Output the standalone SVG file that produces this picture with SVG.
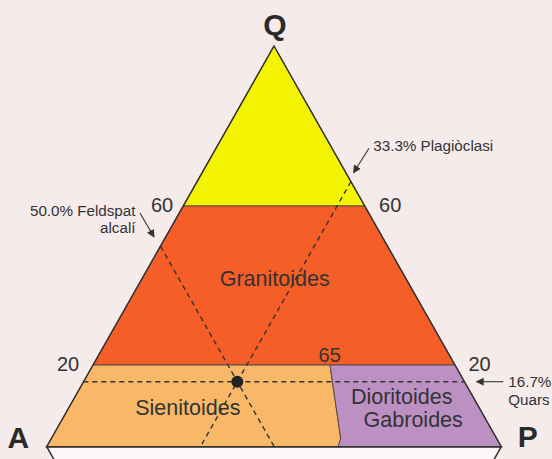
<svg xmlns="http://www.w3.org/2000/svg" width="552" height="459" viewBox="0 0 552 459">
<defs>
<style>
.t{font-family:"Liberation Sans",Arial,sans-serif;fill:#333333}
.big{font-size:21.5px}
.sm{font-size:15.2px}
.num{font-size:20px}
.corner{font-size:30px;font-weight:bold;fill:#2a2a2a}
.reg{stroke:#5a4a40;stroke-width:1}
.dash{stroke:#333;stroke-width:1.4;stroke-dasharray:5 4;fill:none}
.arr{stroke:#333;stroke-width:1.1;fill:none;marker-end:url(#ah)}
</style>
<marker id="ah" viewBox="0 0 10 10" refX="9" refY="5" markerWidth="8" markerHeight="8" markerUnits="userSpaceOnUse" orient="auto">
<path d="M0,0 L10,5 L0,10 z" fill="#333"/>
</marker>
</defs>
<rect width="552" height="459" fill="#f6ebeb"/>
<g id="lower-triangle">
<polygon points="46.7,446.7 501.3,446.7 274,847" fill="#fcf8f8" stroke="#333" stroke-width="1.5"/>
</g>
<g id="region-yellow">
<polygon class="reg" points="274,46 364.7,206 183.3,206" fill="#f4f400"/>
</g>
<g id="region-granitoides">
<polygon class="reg" points="183.3,206 364.7,206 455,365 93,365" fill="#f55e27"/>
<text class="t big" x="274.7" y="285.5" text-anchor="middle">Granitoides</text>
</g>
<g id="region-sienitoides">
<polygon class="reg" points="93,365 330,365 340.7,438.3 338.3,446.7 46.7,446.7" fill="#f8b868"/>
<text class="t big" x="187.8" y="415" text-anchor="middle">Sienitoides</text>
</g>
<g id="region-dioritoides">
<polygon class="reg" points="330,365 455,365 501.3,446.7 338.3,446.7 340.7,438.3" fill="#bd90c4"/>
<text class="t big" x="401.7" y="404" text-anchor="middle">Dioritoides</text>
<text class="t big" x="413.2" y="426.7" text-anchor="middle">Gabroides</text>
</g>
<g id="outline">
<polygon points="274,46 501.3,446.7 46.7,446.7" fill="none" stroke="#333" stroke-width="1.5" stroke-linejoin="miter"/>
</g>
<g id="connectors">
<line class="dash" x1="83.3" y1="381.7" x2="464.3" y2="381.7"/>
<line class="dash" x1="351" y1="181.5" x2="200.4" y2="446.7"/>
<line class="dash" x1="160.5" y1="246.2" x2="274.2" y2="446.7"/>
<line class="arr" x1="369" y1="148.3" x2="353.5" y2="172.7"/>
<line class="arr" x1="140" y1="213" x2="154" y2="237"/>
<line class="arr" x1="503.3" y1="381.7" x2="476.5" y2="381.7"/>
</g>
<g id="point">
<circle cx="237.3" cy="381.7" r="6" fill="#222"/>
</g>
<g id="labels">
<text class="t corner" x="275" y="35" text-anchor="middle">Q</text>
<text class="t corner" x="18.3" y="448" text-anchor="middle">A</text>
<text class="t corner" x="527.8" y="447" text-anchor="middle">P</text>
<text class="t num" x="162" y="212" text-anchor="middle">60</text>
<text class="t num" x="390.2" y="211.7" text-anchor="middle">60</text>
<text class="t num" x="68" y="371" text-anchor="middle">20</text>
<text class="t num" x="479.5" y="370.5" text-anchor="middle">20</text>
<text class="t num" x="329.7" y="361.7" text-anchor="middle">65</text>
<text class="t sm" x="373.3" y="150.5">33.3% Plagiòclasi</text>
<text class="t sm" x="135.5" y="215.5" text-anchor="end">50.0% Feldspat</text>
<text class="t sm" x="135.5" y="233" text-anchor="end">alcalí</text>
<text class="t sm" x="508.3" y="387">16.7%</text>
<text class="t sm" x="508.3" y="404.5">Quars</text>
</g>
</svg>
